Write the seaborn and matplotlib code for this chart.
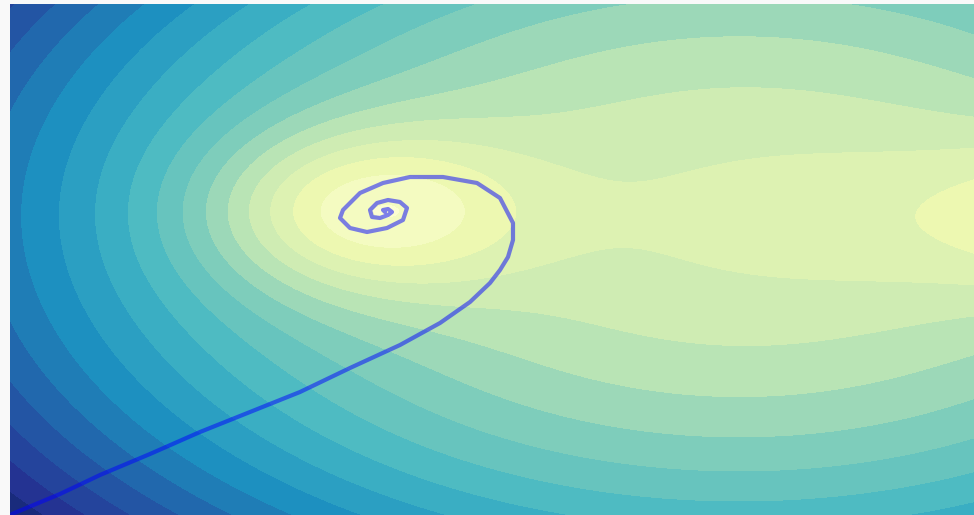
import numpy as np
import matplotlib
matplotlib.use("Agg")
import matplotlib.pyplot as plt
import seaborn as sns

# loss surface: bowl minus two wells (global min on the left, local min at the right edge)
bowl_c = 2.986
bowl_x0, bowl_y0 = 738.9, 216.7
bowl_sx, bowl_sy = 238.7, 127.4
well1_depth, well1_x, well1_y, well1_wx, well1_wy = 5.388, 358.1, 210.8, 152.8, 81.7
well2_depth, well2_x, well2_y, well2_wx, well2_wy = 91.77, 1851.2, 216.5, 462.8, 82.8

# optimizer path (momentum), start bottom-left, spirals into the global min
path_x = [12, 60, 100, 150, 200, 250, 300, 350, 400, 440, 470, 490, 500, 508, 513, 513,
          500, 477, 443, 410, 383, 360, 343, 340, 350, 367, 387, 403, 407, 400, 388, 377,
          370, 372, 380, 388, 392, 388, 383, 385]
path_y = [514, 494, 475, 454, 432, 412, 392, 368, 345, 323, 302, 283, 270, 257, 240, 223,
          198, 183, 177, 177, 183, 193, 210, 218, 228, 232, 228, 220, 208, 202, 200, 203,
          210, 217, 218, 215, 212, 209, 210, 212]


def loss(x, y):
    q = ((x - bowl_x0) / bowl_sx)**2 + ((y - bowl_y0) / bowl_sy)**2
    g1 = well1_depth * np.exp(-((x - well1_x) / well1_wx)**2 - ((y - well1_y) / well1_wy)**2)
    g2 = well2_depth * np.exp(-((x - well2_x) / well2_wx)**2 - ((y - well2_y) / well2_wy)**2)
    return bowl_c + q - g1 - g2


xs = np.linspace(10, 974, 500)
ys = np.linspace(4, 515, 280)
X, Y = np.meshgrid(xs, ys)
Z = loss(X, Y)

sns.set_style("white")
fig = plt.figure(figsize=(9.74, 5.15), dpi=100, facecolor='#f9f9f9')
ax = fig.add_axes([10/974, 0, 964/974, 511/515])
ax.contourf(X, Y, Z, levels=np.arange(-3, 22), cmap='YlGnBu', vmin=-1.02, vmax=19)
sns.lineplot(x=path_x, y=path_y, sort=False, estimator=None, color='blue',
             alpha=0.5, linewidth=3, ax=ax)
ax.set_xlim(10, 974)
ax.set_ylim(515, 4)
ax.axis('off')
fig.savefig('out.png', dpi=100, facecolor=fig.get_facecolor())
